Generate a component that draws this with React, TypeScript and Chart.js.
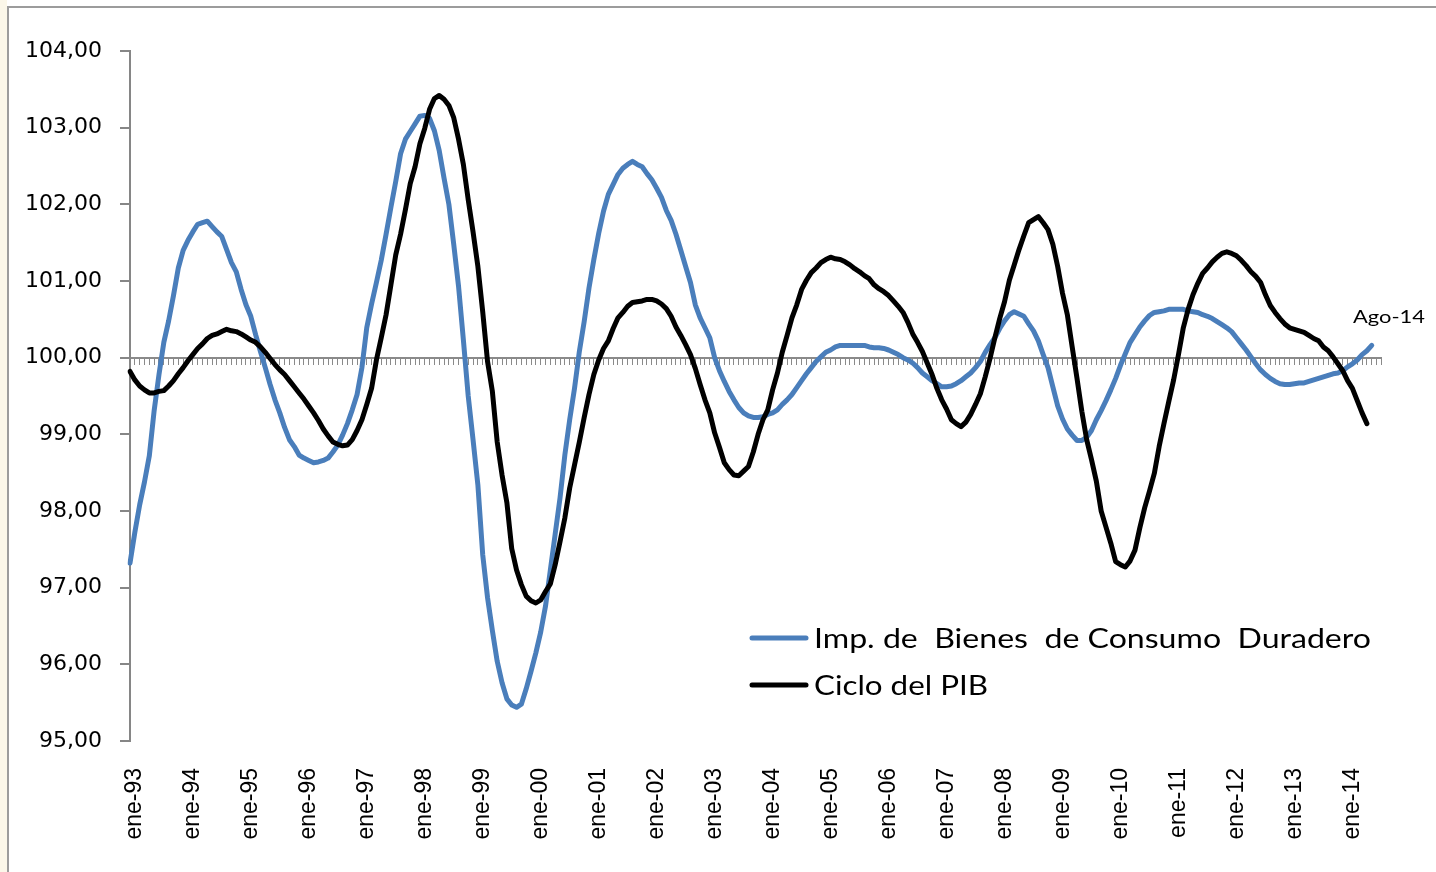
import React, { useEffect, useRef } from 'react';
import { Chart, registerables } from 'chart.js';

Chart.register(...registerables);

// ---- categories (monthly, ene-93 .. ago-14) ----
const MONTHS = ['ene', 'feb', 'mar', 'abr', 'may', 'jun', 'jul', 'ago', 'sep', 'oct', 'nov', 'dic'];
const YEARS = ['93', '94', '95', '96', '97', '98', '99', '00', '01', '02', '03', '04', '05', '06', '07', '08', '09', '10', '11', '12', '13', '14'];
const LAST_LABEL = 'ago-14';
const LABELS: string[] = [];
outer: for (const y of YEARS) {
  for (const m of MONTHS) {
    LABELS.push(`${m}-${y}`);
    if (`${m}-${y}` === LAST_LABEL) break outer;
  }
}

// ---- series ----
const SERIES_IMP_NAME = 'Imp. de  Bienes  de Consumo  Duradero';
const SERIES_PIB_NAME = 'Ciclo del PIB';
const ANNOTATION = 'Ago-14';

const IMP_BIENES: number[] = [
  97.32, 97.72, 98.08, 98.38, 98.72, 99.31, 99.78, 100.20, 100.48, 100.81, 101.17, 101.40,
  101.53, 101.64, 101.74, 101.76, 101.78, 101.71, 101.64, 101.58, 101.41, 101.24, 101.12, 100.89,
  100.69, 100.54, 100.30, 100.08, 99.87, 99.65, 99.45, 99.28, 99.09, 98.93, 98.84, 98.73,
  98.69, 98.66, 98.63, 98.64, 98.66, 98.69, 98.77, 98.86, 98.99, 99.14, 99.32, 99.52,
  99.87, 100.39, 100.70, 100.98, 101.27, 101.61, 101.96, 102.30, 102.66, 102.85, 102.95, 103.05,
  103.15, 103.16, 103.12, 102.96, 102.70, 102.34, 102.00, 101.48, 100.93, 100.23, 99.50, 98.93,
  98.34, 97.43, 96.87, 96.44, 96.04, 95.76, 95.55, 95.47, 95.44, 95.48, 95.68, 95.91,
  96.15, 96.42, 96.76, 97.23, 97.70, 98.17, 98.73, 99.19, 99.60, 100.08, 100.47, 100.91,
  101.28, 101.62, 101.91, 102.13, 102.26, 102.39, 102.47, 102.52, 102.56, 102.52, 102.49, 102.40,
  102.32, 102.21, 102.09, 101.92, 101.79, 101.61, 101.40, 101.19, 100.98, 100.69, 100.52, 100.39,
  100.26, 100.00, 99.83, 99.69, 99.56, 99.45, 99.35, 99.28, 99.24, 99.22, 99.22, 99.23,
  99.26, 99.28, 99.32, 99.39, 99.45, 99.52, 99.61, 99.70, 99.79, 99.87, 99.95, 100.01,
  100.07, 100.10, 100.14, 100.16, 100.16, 100.16, 100.16, 100.16, 100.16, 100.14, 100.13, 100.13,
  100.12, 100.10, 100.07, 100.04, 100.00, 99.97, 99.93, 99.87, 99.80, 99.75, 99.70, 99.66,
  99.62, 99.62, 99.63, 99.66, 99.70, 99.75, 99.80, 99.87, 99.95, 100.07, 100.17, 100.26,
  100.38, 100.48, 100.56, 100.60, 100.57, 100.54, 100.44, 100.35, 100.22, 100.04, 99.87, 99.62,
  99.37, 99.20, 99.07, 98.99, 98.92, 98.92, 98.96, 99.05, 99.19, 99.31, 99.44, 99.58,
  99.73, 99.90, 100.05, 100.20, 100.30, 100.40, 100.48, 100.55, 100.59, 100.60, 100.61, 100.63,
  100.63, 100.63, 100.63, 100.61, 100.60, 100.59, 100.56, 100.54, 100.51, 100.47, 100.43, 100.39,
  100.34, 100.26, 100.18, 100.10, 100.01, 99.92, 99.84, 99.78, 99.73, 99.69, 99.66, 99.65,
  99.65, 99.66, 99.67, 99.67, 99.69, 99.71, 99.73, 99.75, 99.77, 99.79, 99.80, 99.83,
  99.88, 99.92, 99.97, 100.04, 100.09, 100.16,
];

const CICLO_PIB: number[] = [
  99.82, 99.71, 99.63, 99.58, 99.54, 99.54, 99.56, 99.57, 99.63, 99.70, 99.79, 99.87,
  99.96, 100.04, 100.12, 100.18, 100.25, 100.29, 100.31, 100.34, 100.37, 100.35, 100.34, 100.31,
  100.27, 100.23, 100.20, 100.14, 100.07, 99.99, 99.91, 99.84, 99.78, 99.70, 99.62, 99.54,
  99.46, 99.37, 99.28, 99.18, 99.07, 98.98, 98.90, 98.87, 98.85, 98.86, 98.93, 99.05,
  99.19, 99.39, 99.60, 99.97, 100.26, 100.56, 100.95, 101.34, 101.61, 101.93, 102.27, 102.49,
  102.79, 102.99, 103.24, 103.38, 103.42, 103.37, 103.29, 103.13, 102.85, 102.52, 102.06, 101.64,
  101.19, 100.60, 99.95, 99.56, 98.90, 98.47, 98.11, 97.51, 97.23, 97.04, 96.89, 96.83,
  96.80, 96.84, 96.95, 97.05, 97.30, 97.60, 97.91, 98.30, 98.60, 98.90, 99.22, 99.52,
  99.78, 99.97, 100.12, 100.22, 100.38, 100.52, 100.59, 100.67, 100.72, 100.73, 100.74, 100.76,
  100.76, 100.74, 100.70, 100.64, 100.54, 100.40, 100.29, 100.17, 100.04, 99.86, 99.65, 99.45,
  99.28, 99.02, 98.83, 98.63, 98.54, 98.47, 98.46, 98.52, 98.58, 98.77, 99.00, 99.19,
  99.32, 99.58, 99.80, 100.07, 100.29, 100.52, 100.69, 100.89, 101.01, 101.11, 101.17, 101.24,
  101.28, 101.31, 101.29, 101.28, 101.25, 101.21, 101.16, 101.12, 101.07, 101.03, 100.95, 100.90,
  100.86, 100.81, 100.74, 100.67, 100.59, 100.46, 100.31, 100.20, 100.08, 99.93, 99.78, 99.60,
  99.45, 99.33, 99.19, 99.14, 99.10, 99.16, 99.26, 99.39, 99.53, 99.75, 99.99, 100.26,
  100.51, 100.73, 101.01, 101.21, 101.41, 101.59, 101.76, 101.80, 101.84, 101.76, 101.67, 101.48,
  101.19, 100.84, 100.56, 100.14, 99.73, 99.30, 98.93, 98.67, 98.39, 98.00, 97.79, 97.58,
  97.34, 97.30, 97.27, 97.35, 97.49, 97.78, 98.04, 98.26, 98.49, 98.84, 99.14, 99.43,
  99.71, 100.04, 100.39, 100.63, 100.82, 100.97, 101.10, 101.17, 101.25, 101.31, 101.36, 101.38,
  101.36, 101.33, 101.27, 101.20, 101.12, 101.06, 100.98, 100.82, 100.68, 100.59, 100.51, 100.44,
  100.39, 100.37, 100.35, 100.33, 100.29, 100.25, 100.22, 100.14, 100.09, 100.01, 99.92, 99.83,
  99.70, 99.60, 99.44, 99.28, 99.14,
];

// ---- axis settings ----
const Y_MIN = 95;
const Y_MAX = 104;
const Y_STEP = 1;
const BASELINE = 100;

const W = 1436;
const H = 872;
const BLUE = '#4a7ebb';
const BLACK = '#000000';
const AXIS_GRAY = '#868686';

function drawScaledText(ctx: CanvasRenderingContext2D, text: string, x: number, y: number, targetWidth: number, font: string) {
  ctx.font = font;
  const w = ctx.measureText(text).width;
  const s = targetWidth / w;
  ctx.save();
  ctx.translate(x, y);
  ctx.scale(s, 1);
  ctx.fillText(text, 0, 0);
  ctx.restore();
}

const decorPlugin = {
  id: 'decor',
  beforeDraw(chart: any) {
    const ctx: CanvasRenderingContext2D = chart.ctx;
    ctx.save();
    ctx.fillStyle = '#ffffff';
    ctx.fillRect(0, 0, W, H);
    ctx.fillStyle = '#fbf7e9';
    ctx.fillRect(0, 0, 7, H);
    ctx.strokeStyle = '#9c9c9c';
    ctx.lineWidth = 2;
    ctx.beginPath();
    ctx.moveTo(8, H);
    ctx.lineTo(8, 7);
    ctx.lineTo(W, 7);
    ctx.stroke();
    ctx.restore();
  },
  afterDraw(chart: any) {
    const ctx: CanvasRenderingContext2D = chart.ctx;
    ctx.save();
    const entries = [
      { text: SERIES_IMP_NAME, color: BLUE, lineY: 638, baseY: 648, width: 557 },
      { text: SERIES_PIB_NAME, color: BLACK, lineY: 685, baseY: 695, width: 174 },
    ];
    for (const e of entries) {
      ctx.strokeStyle = e.color;
      ctx.lineWidth = 5;
      ctx.lineCap = 'round';
      ctx.beginPath();
      ctx.moveTo(752, e.lineY);
      ctx.lineTo(806, e.lineY);
      ctx.stroke();
      ctx.fillStyle = '#000000';
      ctx.textBaseline = 'alphabetic';
      ctx.textAlign = 'left';
      drawScaledText(ctx, e.text, 814, e.baseY, e.width, '27px Lato');
    }
    ctx.fillStyle = '#000000';
    drawScaledText(ctx, ANNOTATION, 1353, 323, 72, '18px Lato');
    ctx.restore();
  },
};

export default function App() {
  const ref = useRef<HTMLCanvasElement | null>(null);

  useEffect(() => {
    if (!ref.current) return;
    const chart = new Chart(ref.current, {
      type: 'line',
      data: {
        labels: LABELS,
        datasets: [
          {
            label: SERIES_IMP_NAME,
            data: IMP_BIENES,
            borderColor: BLUE,
            backgroundColor: BLUE,
            borderWidth: 5,
            pointRadius: 0,
            tension: 0,
            fill: false,
            borderJoinStyle: 'round',
            borderCapStyle: 'round',
            order: 1,
          },
          {
            label: SERIES_PIB_NAME,
            data: CICLO_PIB,
            borderColor: BLACK,
            backgroundColor: BLACK,
            borderWidth: 5,
            pointRadius: 0,
            tension: 0,
            fill: false,
            borderJoinStyle: 'round',
            borderCapStyle: 'round',
            order: 0,
          },
        ],
      },
      options: {
        responsive: false,
        animation: false,
        devicePixelRatio: 1,
        layout: { padding: { left: 8, top: 51, right: 52, bottom: 0 } },
        plugins: {
          legend: { display: false },
          tooltip: { enabled: false },
        },
        scales: {
          x: {
            type: 'category',
            position: 'bottom',
            grid: { display: false, drawTicks: false },
            border: { display: false },
            ticks: {
              autoSkip: false,
              minRotation: 90,
              maxRotation: 90,
              padding: 27,
              labelOffset: 5,
              color: '#000000',
              font: { family: 'Liberation Sans', size: 23 },
              callback: (_v: any, i: number) => (LABELS[i].startsWith('ene') ? LABELS[i] : ''),
            },
            afterFit: (scale: any) => {
              scale.height = 131;
            },
          },
          x2: {
            type: 'category',
            axis: 'x',
            position: { y: BASELINE },
            grid: { display: true, drawOnChartArea: false, drawTicks: true, tickLength: 6, color: '#8a8a8a', lineWidth: 1 },
            border: { display: true, color: '#8a8a8a', width: 2 },
            ticks: { display: false },
          },
          y: {
            type: 'linear',
            position: 'left',
            min: Y_MIN,
            max: Y_MAX,
            grid: { drawOnChartArea: false, drawTicks: true, tickLength: 10, color: AXIS_GRAY, lineWidth: 2 },
            border: { display: true, color: AXIS_GRAY, width: 2 },
            ticks: {
              stepSize: Y_STEP,
              padding: 18,
              color: '#000000',
              font: { family: 'DejaVu Sans', size: 22 },
              callback: (v: any) => Number(v).toFixed(2).replace('.', ','),
            },
            afterFit: (scale: any) => {
              scale.width = 122;
            },
          },
        },
      } as any,
      plugins: [decorPlugin],
    });
    return () => chart.destroy();
  }, []);

  return (
    <div style={{ position: 'fixed', left: 0, top: 0, width: W, height: H, background: '#ffffff' }}>
      <canvas ref={ref} width={W} height={H} style={{ width: W, height: H, display: 'block' }} />
    </div>
  );
}
